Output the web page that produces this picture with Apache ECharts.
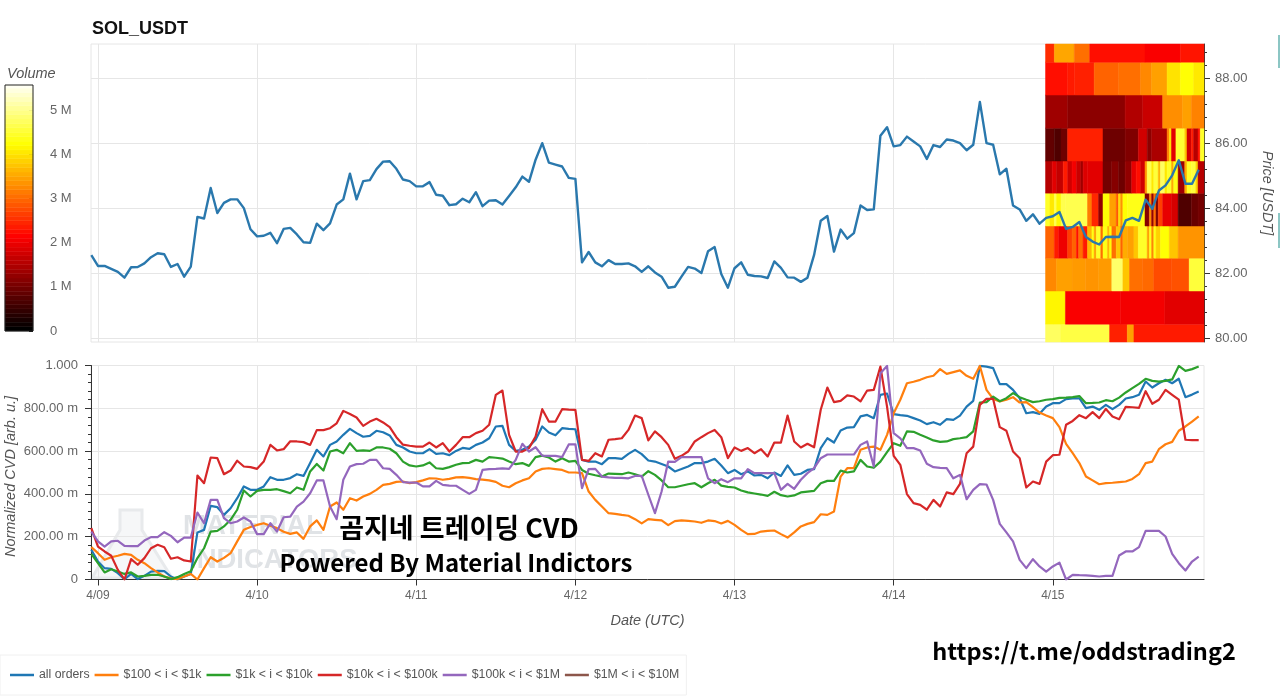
<!DOCTYPE html>
<html>
<head>
<meta charset="utf-8">
<title>SOL_USDT</title>
<script src="https://cdn.jsdelivr.net/npm/echarts@6/dist/echarts.min.js"></script>
<style>
html, body { margin: 0; padding: 0; background: #fff; }
#main { width: 1280px; height: 696px; }
</style>
</head>
<body>
<div id="main"></div>
<script>
var dayTicks = [0, 24, 48, 72, 96, 120, 144];
var dayLabels = ['4/09', '4/10', '4/11', '4/12', '4/13', '4/14', '4/15'];
var priceTicks = [80, 82, 84, 86, 88];
var priceMinorTicks = [80.4, 80.8, 81.2, 81.6, 82.4, 82.8, 83.2, 83.6, 84.4, 84.8, 85.2, 85.6, 86.4, 86.8, 87.2, 87.6, 88.4, 88.8];
var volumeTicks = [0, 1, 2, 3, 4, 5];
var legendNames = ['all orders', '$100 < i < $1k', '$1k < i < $10k', '$10k < i < $100k', '$100k < i < $1M', '$1M < i < $10M'];

// hourly, first point is 4/08 23:00
var price = [
    82.55, 82.22, 82.22, 82.13, 82.04, 81.86, 82.18, 82.19, 82.30, 82.49, 82.61, 82.58, 82.19, 82.28, 81.89, 82.20,
    83.73, 83.68, 84.62, 83.85, 84.16, 84.27, 84.27, 84.00, 83.35, 83.13, 83.15, 83.24, 82.92, 83.36, 83.39, 83.19,
    82.95, 82.93, 83.52, 83.32, 83.53, 84.11, 84.27, 85.06, 84.27, 84.83, 84.86, 85.20, 85.43, 85.44, 85.21, 84.88, 84.83,
    84.67, 84.67, 84.80, 84.41, 84.38, 84.09, 84.12, 84.29, 84.18, 84.49, 84.06, 84.23, 84.24, 84.11, 84.37, 84.64,
    84.97, 84.81, 85.49, 86.00, 85.40, 85.34, 85.28, 84.93, 84.90, 82.33, 82.65, 82.33, 82.21, 82.40, 82.28, 82.28,
    82.30, 82.21, 82.04, 82.21, 82.02, 81.89, 81.55, 81.58, 81.89, 82.19, 82.14, 82.00, 82.67, 82.80, 81.97, 81.55,
    82.15, 82.33, 81.95, 81.91, 81.90, 81.85, 82.36, 82.16, 81.87, 81.86, 81.73, 81.86, 82.56, 83.61, 83.76, 82.66,
    83.34, 83.06, 83.23, 84.08, 83.94, 83.96, 86.23, 86.49, 85.90, 85.94, 86.20, 86.05, 85.90, 85.51, 85.94, 85.88,
    86.11, 86.08, 86.00, 85.78, 85.95, 87.27, 86.00, 85.95, 85.04, 85.21, 84.08, 83.96, 83.61, 83.81, 83.52, 83.70,
    83.75, 83.88, 83.36, 83.42, 83.57, 83.11, 82.97, 82.88, 83.11, 83.12, 83.11, 83.62, 83.70, 83.61, 84.26, 83.98,
    84.54, 84.70, 85.01, 85.47, 84.75, 84.75, 85.18
];

// normalized CVD in milli units
var cvdAll = [
    139, 84, 53, 50, 30, 2, 26, 2, 17, 37, 40, 39, 14, 0, 14, 26, 220, 232, 344, 338, 302, 333, 380, 435, 419, 419,
    435, 478, 466, 466, 474, 492, 484, 544, 606, 575, 629, 645, 676, 704, 684, 667, 671, 695, 688, 673, 629,
    617, 598, 590, 590, 609, 587, 590, 581, 601, 615, 610, 629, 640, 660, 715, 718, 629, 601, 606, 621, 653, 715, 687, 674,
    707, 704, 702, 559, 551, 551, 539, 567, 567, 564, 587, 606, 586, 556, 551, 540, 528, 505, 516, 528, 544, 544, 551, 564,
    533, 497, 512, 492, 505, 486, 489, 473, 500, 484, 533, 489,
    494, 512, 516, 614, 660, 640, 696, 710, 712, 762, 769, 754, 863, 869, 773, 768, 765, 754, 743, 726, 735, 723, 749, 746,
    766, 808, 835, 998, 995, 988, 913, 913, 886, 847, 777, 782, 774, 808, 824, 824, 843, 846, 847, 801, 808, 793, 816, 796,
    816, 846, 852, 863, 925, 897, 917, 933, 917, 938, 852, 864, 878
];
var cvd100 = [
    151, 123, 92, 104, 111, 120, 115, 92, 76, 53, 33, 14, 5, 2, 14, 26, 0, 53, 104, 84, 101, 123, 178, 232, 245, 255,
    263, 251, 240, 223, 213, 220, 190, 248, 276, 232, 341, 360, 326, 380, 369, 388, 400, 419, 442, 447, 456,
    458, 450, 455, 463, 473, 472, 466, 470, 477, 478, 475, 469, 467, 463, 456, 438, 431, 450, 463, 473, 505, 517, 520, 516,
    512, 500, 500, 497, 411, 372, 341, 310, 307, 302, 298, 282, 262, 282, 279, 276, 254, 273, 276, 274, 271, 265, 276, 273,
    262, 274, 255, 232, 212, 213, 224, 227, 229, 212, 196, 220,
    248, 260, 268, 305, 302, 318, 481, 520, 520, 606, 617, 621, 606, 676, 777, 840, 917, 924, 933, 945, 952, 983, 961, 969,
    977, 952, 938, 998, 886, 844, 832, 840, 852, 827, 829, 805, 780, 766, 754, 712, 634, 590, 544, 481, 463, 445, 450, 452,
    455, 458, 470, 492, 544, 551, 609, 632, 643, 695, 715, 738, 762
];
var cvd1k = [
    120, 76, 33, 48, 37, 26, 33, 14, 17, 22, 22, 14, 2, 11, 26, 39, 100, 146, 224, 227, 248, 279, 326, 416, 388, 414,
    419, 419, 422, 413, 403, 430, 419, 505, 540, 509, 598, 606, 590, 637, 601, 603, 601, 617, 617, 611, 590,
    551, 533, 528, 533, 547, 520, 517, 525, 536, 544, 545, 559, 551, 572, 569, 565, 551, 539, 544, 531, 572, 579, 570, 551,
    567, 551, 554, 512, 494, 487, 481, 495, 494, 492, 500, 492, 481, 506, 489, 463, 431, 431, 438, 445, 450, 431, 450, 466,
    439, 433, 430, 416, 407, 402, 397, 391, 410, 394, 388, 393,
    407, 411, 414, 450, 461, 461, 509, 500, 505, 559, 528, 522, 551, 595, 637, 625, 692, 690, 676, 664, 650, 643, 645, 656,
    660, 665, 692, 827, 829, 855, 833, 847, 871, 852, 840, 829, 833, 840, 843, 849, 850, 852, 857, 824, 825, 827, 838, 833,
    850, 874, 894, 914, 938, 928, 925, 928, 935, 998, 975, 983, 995
];
var cvd10k = [
    240, 154, 131, 111, 45, 0, 95, 69, 100, 146, 162, 151, 97, 104, 89, 84, 486, 450, 570, 567, 492, 509, 555, 528, 525, 517,
    551, 629, 603, 609, 646, 645, 642, 629, 698, 698, 707, 730, 788, 773, 757, 718, 738, 751, 734, 712, 665,
    630, 625, 621, 621, 640, 617, 637, 598, 629, 665, 665, 684, 695, 723, 863, 883, 676, 598, 598, 614, 668, 796, 738, 738,
    796, 794, 793, 559, 554, 590, 575, 653, 656, 660, 699, 766, 754, 650, 692, 665, 629, 564, 578, 598, 645, 665, 684, 699,
    665, 567, 617, 601, 614, 590, 609, 575, 640, 640, 766, 645,
    617, 634, 618, 793, 897, 829, 835, 860, 855, 832, 883, 886, 995, 808, 578, 536, 399, 357, 349, 326, 372, 341, 407, 399,
    447, 590, 621, 816, 844, 844, 712, 695, 598, 567, 430, 458, 447, 551, 581, 583, 723, 741, 768, 754, 782, 754, 797, 762,
    749, 807, 805, 802, 880, 821, 840, 886, 863, 840, 653, 651, 651
];
var cvd100k = [
    224, 178, 154, 178, 181, 157, 156, 156, 182, 198, 198, 221, 204, 174, 196, 196, 313, 263, 372, 372, 287, 263, 271, 290, 271, 212,
    212, 263, 224, 291, 294, 341, 364, 403, 463, 463, 341, 282, 466, 528, 539, 541, 559, 559, 520, 517, 489,
    455, 453, 453, 435, 435, 461, 442, 439, 438, 419, 400, 419, 512, 516, 517, 519, 517, 559, 634, 598, 618, 579, 578, 578,
    572, 631, 632, 427, 516, 517, 481, 477, 475, 475, 473, 484, 484, 396, 310, 411, 551, 550, 572, 572, 572, 572, 473, 450,
    469, 455, 473, 473, 516, 497, 497, 497, 497, 419, 447, 424,
    466, 497, 520, 567, 584, 584, 584, 584, 584, 629, 645, 528, 964, 998, 684, 660, 614, 614, 603, 541, 525, 522, 520, 473,
    489, 375, 419, 446, 444, 372, 260, 220, 178, 92, 53, 95, 61, 37, 61, 79, 0, 22, 20, 19, 17, 14, 17, 17,
    112, 131, 131, 151, 227, 227, 227, 201, 120, 76, 42, 84, 107
];
var cvd1M = [];

// heatmap: volume in M, runs of [columns, volume], 72 columns of 20 minutes, lowest price row first
var heatBinEdges = [79.42, 80.43, 81.45, 82.46, 83.45, 84.46, 85.45, 86.46, 87.48, 88.49, 89.5];
var heatRow0 = [[7, 4.7], [22, 4.55], [8, 2.35], [3, 3.4], [32, 2.3]];
var heatRow1 = [[9, 4.1], [25, 2.05], [20, 2.0], [18, 1.85]];
var heatRow2 = [[5, 3.2], [7, 3.4], [6, 3.35], [6, 3.3], [6, 3.35], [5, 4.75], [3, 3.7], [6, 3.0], [5, 2.95], [8, 2.7], [8, 2.75], [7, 4.5]];
var heatRow3 = [[4, 2.9], [2, 2.3], [4, 1.95], [2, 2.6], [2, 2.9], [1, 2.2], [2, 3.0], [2, 2.3], [2, 3.6], [1, 4.3], [1, 3.4], [2, 4.4], [1, 3.0], [2, 4.3], [1, 3.6], [1, 4.2], [2, 3.0], [2, 3.7], [1, 2.9], [2, 3.5], [3, 3.4], [2, 3.7], [4, 4.4], [1, 3.4], [1, 4.3], [1, 3.2], [1, 4.3], [2, 3.8], [4, 4.2], [4, 3.7], [12, 3.3]];
var heatRow4 = [[2, 4.4], [2, 4.0], [1, 4.6], [2, 4.1], [2, 4.6], [10, 4.6], [2, 3.1], [3, 2.4], [2, 1.2], [3, 4.2], [3, 3.4], [1, 2.8], [1, 3.9], [1, 3.3], [2, 4.2], [8, 4.3], [2, 1.1], [1, 3.2], [1, 1.2], [1, 3.0], [1, 1.0], [2, 2.6], [4, 1.9], [3, 1.75], [6, 0.65], [3, 0.85], [3, 0.95]];
var heatRow5 = [[3, 1.5], [2, 1.85], [3, 1.6], [2, 2.3], [2, 1.7], [2, 2.0], [2, 1.65], [1, 1.3], [2, 1.8], [7, 1.85], [4, 0.95], [3, 1.1], [3, 0.9], [3, 1.2], [2, 1.9], [2, 2.2], [2, 1.7], [1, 3.3], [2, 4.6], [1, 4.0], [2, 4.5], [1, 3.6], [2, 4.7], [1, 4.0], [2, 4.4], [1, 3.5], [2, 4.3], [3, 1.3], [1, 3.5], [2, 4.4], [2, 4.5], [1, 3.8], [3, 1.5]];
var heatRow6 = [[4, 0.8], [3, 0.65], [3, 0.9], [16, 2.35], [10, 0.9], [6, 1.05], [4, 1.7], [2, 1.15], [7, 1.4], [1, 3.1], [1, 3.9], [2, 1.85], [4, 4.45], [1, 3.7], [2, 1.7], [1, 2.3], [2, 1.5], [1, 2.2], [2, 4.4]];
var heatRow7 = [[10, 1.3], [26, 1.15], [8, 1.45], [9, 1.65], [9, 3.25], [4, 3.4], [6, 3.15]];
var heatRow8 = [[10, 2.2], [3, 2.3], [9, 2.35], [11, 2.9], [10, 3.0], [5, 3.2], [7, 3.4], [6, 3.95], [6, 4.2], [5, 4.0]];
var heatRow9 = [[4, 2.45], [9, 3.45], [7, 3.0], [25, 2.2], [16, 2.05], [11, 2.25]];
var heatRows = [heatRow0, heatRow1, heatRow2, heatRow3, heatRow4, heatRow5, heatRow6, heatRow7, heatRow8, heatRow9];
var heatStartHour = 142.9;

var volumeLevels = [
    0, 0.1, 0.2, 0.3, 0.4, 0.5, 0.6, 0.7, 0.8, 0.9, 1.0, 1.1, 1.2, 1.3, 1.4, 1.5, 1.6, 1.7, 1.8, 1.9,
    2.0, 2.1, 2.2, 2.3, 2.4, 2.5, 2.6, 2.7, 2.8, 2.9, 3.0, 3.1, 3.2, 3.3, 3.4, 3.5, 3.6, 3.7, 3.8, 3.9,
    4.0, 4.1, 4.2, 4.3, 4.4, 4.5, 4.6, 4.7, 4.8, 4.9, 5.0, 5.1, 5.2, 5.3, 5.4, 5.5
];

var lineColors = ['#1f77b4', '#ff7f0e', '#2ca02c', '#d62728', '#9467bd', '#8c564b'];
var hotColors = ['#000000', '#550000', '#aa0000', '#ff0000', '#ff5500', '#ffaa00', '#ffff00', '#ffff80', '#ffffff'];

function withHours(values) {
    return values.map(function (v, i) {
        return [i - 1, v];
    });
}

function heatCells() {
    var cells = [];
    heatRows.forEach(function (row, r) {
        var col = 0;
        row.forEach(function (run) {
            cells.push([heatStartHour + col / 3, heatStartHour + (col + run[0]) / 3, heatBinEdges[r], heatBinEdges[r + 1], run[1]]);
            col += run[0];
        });
    });
    return cells;
}

function barCells() {
    return volumeLevels.map(function (v) {
        return [0, 1, v, Math.min(v + 0.1, 5.57), v];
    });
}

function renderCell(params, api) {
    var lo = api.coord([api.value(0), api.value(2)]);
    var hi = api.coord([api.value(1), api.value(3)]);
    var cs = params.coordSys;
    var rect = echarts.graphic.clipRectByRect(
        { x: lo[0], y: hi[1], width: hi[0] - lo[0], height: lo[1] - hi[1] },
        { x: cs.x, y: cs.y, width: cs.width, height: cs.height }
    );
    if (!rect) {
        return null;
    }
    var color = api.visual('color');
    return {
        type: 'rect',
        shape: rect,
        style: { fill: color, stroke: color, lineWidth: 0.5 }
    };
}

function cvdSeries(name, values, color) {
    return {
        name: name,
        type: 'line',
        xAxisIndex: 1,
        yAxisIndex: 2,
        data: withHours(values),
        showSymbol: false,
        lineStyle: { width: 2.2, color: color, join: 'round' },
        itemStyle: { color: color },
        z: 5
    };
}

function cvdLabel(v) {
    if (v === 1000) {
        return '1.000';
    }
    return v === 0 ? '0' : v.toFixed(2) + ' m';
}

var gridColor = '#e6e6e6';
var labelColor = '#666';
var nameStyle = { color: '#555', fontStyle: 'italic', fontSize: 14.5, fontFamily: 'Liberation Sans' };
var xMin = -1.05;
var xMax = 166.8;
var priceMin = 79.88;
var priceMax = 89.05;

var chart = echarts.init(document.getElementById('main'));

var option = {
    animation: false,
    backgroundColor: '#fff',
    textStyle: { fontFamily: 'Liberation Sans' },
    title: {
        text: 'SOL_USDT',
        left: 92,
        top: 20,
        padding: 0,
        textStyle: { fontSize: 18, fontWeight: 'bold', color: '#111' }
    },
    legend: {
        data: legendNames,
        left: 0,
        top: 655,
        padding: [14, 7, 14, 10],
        itemGap: 5,
        itemWidth: 24,
        itemHeight: 2.5,
        icon: 'rect',
        borderColor: '#f0f0f0',
        borderWidth: 1,
        textStyle: { color: '#555', fontSize: 12.3 }
    },
    grid: [
        { left: 91, width: 1113, top: 44, height: 298, show: true, borderColor: gridColor, borderWidth: 1, outerBoundsMode: 'none' },
        { left: 91, width: 1113, top: 365.5, height: 214, show: true, borderColor: gridColor, borderWidth: 1, outerBoundsMode: 'none' },
        { left: 5, width: 28, top: 85, height: 246, outerBoundsMode: 'none' },
        { left: 91, width: 1113, top: 44, height: 298, outerBoundsMode: 'none' }
    ],
    xAxis: [
        {
            type: 'value', gridIndex: 0, min: xMin, max: xMax,
            axisLine: { show: false, onZero: false },
            axisLabel: { show: false },
            axisTick: { show: false, customValues: dayTicks },
            splitLine: { show: true, lineStyle: { color: gridColor } }
        },
        {
            type: 'value', gridIndex: 1, min: xMin, max: xMax,
            name: 'Date (UTC)',
            nameLocation: 'middle',
            nameGap: 34,
            nameTextStyle: nameStyle,
            axisLine: { onZero: false, lineStyle: { color: '#333' } },
            axisTick: { length: 6, lineStyle: { color: '#333' }, customValues: dayTicks },
            axisLabel: {
                color: labelColor,
                fontSize: 12,
                margin: 10,
                customValues: dayTicks,
                formatter: function (v) {
                    return dayLabels[dayTicks.indexOf(v)];
                }
            },
            splitLine: { show: true, lineStyle: { color: gridColor } }
        },
        { type: 'value', gridIndex: 2, min: 0, max: 1, show: false },
        { type: 'value', gridIndex: 3, min: xMin, max: xMax, show: false }
    ],
    yAxis: [
        {
            type: 'value', gridIndex: 0, position: 'right', min: priceMin, max: priceMax,
            name: 'Price [USDT]',
            nameLocation: 'middle',
            nameRotate: -90,
            nameGap: 56,
            nameTextStyle: nameStyle,
            axisLine: { show: true, onZero: false, lineStyle: { color: '#333' } },
            axisTick: { show: true, length: 6, lineStyle: { color: '#333' }, customValues: priceTicks },
            axisLabel: {
                color: labelColor,
                fontSize: 13,
                margin: 11,
                customValues: priceTicks,
                formatter: function (v) {
                    return v.toFixed(2);
                }
            },
            splitLine: { show: true, lineStyle: { color: gridColor } }
        },
        {
            type: 'value', gridIndex: 3, position: 'right', min: priceMin, max: priceMax,
            axisLine: { show: false, onZero: false },
            axisLabel: { show: false },
            axisTick: { show: true, length: 3, lineStyle: { color: '#333' }, customValues: priceMinorTicks },
            splitLine: { show: false }
        },
        {
            type: 'value', gridIndex: 1, min: 0, max: 1000, interval: 200,
            name: 'Normalized CVD [arb. u.]',
            nameLocation: 'middle',
            nameGap: 73,
            nameMoveOverlap: false,
            nameTextStyle: { color: '#555', fontStyle: 'italic', fontSize: 14.5, padding: [0, 8, 0, 0] },
            axisLine: { show: true, onZero: false, lineStyle: { color: '#333' } },
            axisTick: { show: true, length: 6, lineStyle: { color: '#333' } },
            minorTick: { show: true, splitNumber: 5, length: 3, lineStyle: { color: '#333' } },
            axisLabel: { color: labelColor, fontSize: 13, margin: 13, formatter: cvdLabel },
            splitLine: { show: true, lineStyle: { color: gridColor } }
        },
        {
            type: 'value', gridIndex: 2, position: 'right', min: 0, max: 5.57,
            axisLine: { show: false, onZero: false },
            axisTick: { show: true, inside: true, length: 4, lineStyle: { color: '#222' }, customValues: volumeTicks },
            axisLabel: {
                color: labelColor,
                fontSize: 13,
                margin: 17,
                customValues: volumeTicks,
                formatter: function (v) {
                    return v === 0 ? '0' : v + ' M';
                }
            },
            splitLine: { show: false }
        }
    ],
    visualMap: {
        show: false,
        type: 'continuous',
        min: 0,
        max: 5.57,
        dimension: 4,
        seriesIndex: [0, 1],
        inRange: { color: hotColors }
    },
    series: [
        {
            type: 'custom',
            xAxisIndex: 0,
            yAxisIndex: 0,
            data: heatCells(),
            encode: { x: [0, 1], y: [2, 3] },
            renderItem: renderCell,
            silent: true,
            z: 2
        },
        {
            type: 'custom',
            xAxisIndex: 2,
            yAxisIndex: 3,
            data: barCells(),
            encode: { x: [0, 1], y: [2, 3] },
            renderItem: renderCell,
            silent: true,
            z: 2
        },
        {
            name: 'price',
            type: 'line',
            xAxisIndex: 0,
            yAxisIndex: 0,
            data: withHours(price),
            showSymbol: false,
            lineStyle: { width: 2.4, color: '#2a78ad', join: 'round' },
            itemStyle: { color: '#2a78ad' },
            z: 5
        },
        cvdSeries(legendNames[0], cvdAll, lineColors[0]),
        cvdSeries(legendNames[1], cvd100, lineColors[1]),
        cvdSeries(legendNames[2], cvd1k, lineColors[2]),
        cvdSeries(legendNames[3], cvd10k, lineColors[3]),
        cvdSeries(legendNames[4], cvd100k, lineColors[4]),
        cvdSeries(legendNames[5], cvd1M, lineColors[5])
    ],
    graphic: [
        {
            type: 'polygon', z: 0, silent: true,
            shape: { points: [[120, 510], [142, 510], [142, 530], [172, 578], [92, 578], [120, 530]] },
            style: { fill: '#f6f7f8', stroke: '#e8eaec', lineWidth: 3 }
        },
        {
            type: 'text', z: 0, silent: true, x: 183, y: 526,
            style: { text: 'MATERIAL', fill: '#e0e3e6', font: 'bold 27.5px "Liberation Sans"', textVerticalAlign: 'middle' }
        },
        {
            type: 'text', z: 0, silent: true, x: 189, y: 560,
            style: { text: 'INDICATORS', fill: '#e0e3e6', font: 'bold 27.5px "Liberation Sans"', textVerticalAlign: 'middle' }
        },
        {
            type: 'rect', z: 10, silent: true,
            shape: { x: 5, y: 85, width: 28, height: 246 },
            style: { fill: 'none', stroke: '#222', lineWidth: 1 }
        },
        {
            type: 'text', z: 10, silent: true, x: 7, y: 74,
            style: { text: 'Volume', fill: '#555', font: 'italic 14.5px "Liberation Sans"', textVerticalAlign: 'middle' }
        },
        {
            type: 'text', z: 20, silent: true, x: 459, y: 528,
            style: { text: '곰지네 트레이딩 CVD', fill: '#000', font: 'bold 27px "Noto Sans CJK KR"', textAlign: 'center', textVerticalAlign: 'middle' }
        },
        {
            type: 'text', z: 20, silent: true, x: 456, y: 563,
            style: { text: 'Powered By Material Indictors', fill: '#000', font: 'bold 24px "Noto Sans CJK KR"', textAlign: 'center', textVerticalAlign: 'middle' }
        },
        {
            type: 'text', z: 20, silent: true, x: 1084, y: 651,
            style: { text: 'https://t.me/oddstrading2', fill: '#000', font: 'bold 23.5px "Noto Sans CJK KR"', textAlign: 'center', textVerticalAlign: 'middle' }
        },
        { type: 'rect', z: 1, silent: true, shape: { x: 1278, y: 35, width: 2, height: 33 }, style: { fill: '#8cc6c4' } },
        { type: 'rect', z: 1, silent: true, shape: { x: 1278, y: 213, width: 2, height: 35 }, style: { fill: '#8cc6c4' } }
    ]
};

chart.setOption(option);
</script>
</body>
</html>
